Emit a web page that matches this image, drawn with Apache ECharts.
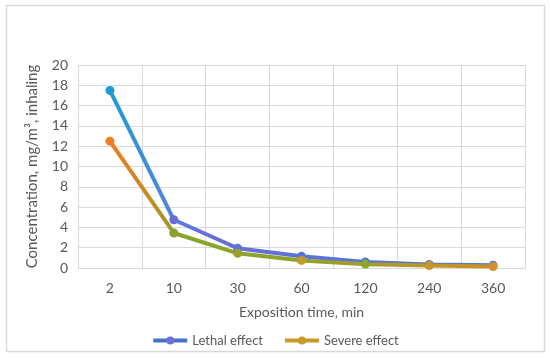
<!DOCTYPE html>
<html>
<head>
<meta charset="utf-8">
<script src="https://cdn.jsdelivr.net/npm/echarts@6/dist/echarts.min.js"></script>
<style>html,body{margin:0;padding:0;background:#fff}#c{width:550px;height:358px}</style>
</head>
<body>
<div id="c"></div>
<script>
var categories = ['2', '10', '30', '60', '120', '240', '360'];
var lethal = [17.5, 4.75, 1.95, 1.15, 0.6, 0.35, 0.28];
var severe = [12.5, 3.45, 1.45, 0.75, 0.38, 0.25, 0.15];
var seriesNames = ['Lethal effect', 'Severe effect'];
var yTicks = {min: 0, max: 20, interval: 2};

var lethalMarkerColors = ['#1E9BD7', '#6C6CD9', '#5E73D8', '#5A74D5', '#4C7ECD', '#4C7ECD', '#4D7BCF'];
var severeMarkerColors = ['#F47C20', '#8AA030', '#9AA030', '#C39A2A', '#8FA52D', '#C8952A', '#D4902A'];

var font = 'Lato, "Open Sans", sans-serif';
function grad(stops) {
  return new echarts.graphic.LinearGradient(0, 0, 1, 0, stops.map(function (s) { return {offset: s[0], color: s[1]}; }));
}
function items(vals, cols) {
  return vals.map(function (v, i) { return {value: v, itemStyle: {color: cols[i]}}; });
}

var chart = echarts.init(document.getElementById('c'), null, {renderer: 'canvas'});
chart.setOption({
  animation: false,
  backgroundColor: '#fff',
  textStyle: {fontFamily: font},
  graphic: [{
    type: 'rect', shape: {x: 6.5, y: 5.5, width: 538, height: 346},
    style: {fill: 'none', stroke: '#d9d9d9', lineWidth: 1.5}, silent: true, z: -1
  }],
  grid: {left: 78, right: 25, top: 65, bottom: 90, containLabel: false},
  legend: {
    top: 329, left: 'center', itemWidth: 34, itemHeight: 10, itemGap: 20,
    textStyle: {fontFamily: font, fontSize: 13, color: '#595959'},
    data: [
      {name: seriesNames[0], lineStyle: {color: '#4472C4', width: 4}, itemStyle: {color: '#6A70D8'}},
      {name: seriesNames[1], lineStyle: {color: '#C99A2A', width: 4}, itemStyle: {color: '#C99A2A'}}
    ]
  },
  xAxis: {
    type: 'category', data: categories, boundaryGap: true,
    name: 'Exposition time, min', nameLocation: 'middle', nameGap: 37,
    nameTextStyle: {fontFamily: font, fontSize: 14, color: '#595959'},
    axisLine: {lineStyle: {color: '#d9d9d9', width: 1}},
    axisTick: {show: false},
    axisLabel: {color: '#595959', fontSize: 14, margin: 13, fontFamily: font},
    splitLine: {show: true, lineStyle: {color: '#d9d9d9', width: 1}}
  },
  yAxis: {
    type: 'value', min: yTicks.min, max: yTicks.max, interval: yTicks.interval,
    name: 'Concentration, mg/m³, inhaling', nameLocation: 'middle', nameGap: 38,
    nameTextStyle: {fontFamily: font, fontSize: 15, color: '#595959'},
    axisLine: {show: false}, axisTick: {show: false},
    axisLabel: {color: '#595959', fontSize: 14, margin: 10, fontFamily: font},
    splitLine: {lineStyle: {color: '#d9d9d9', width: 1}}
  },
  series: [
    {
      name: seriesNames[0], type: 'line', data: items(lethal, lethalMarkerColors),
      symbol: 'circle', symbolSize: 9,
      lineStyle: {width: 4, color: grad([[0, '#1E9BD7'], [0.15, '#4C88D8'], [0.25, '#6C6CD9'], [0.5, '#5E72D8'], [1, '#4A7BD0']])},
      itemStyle: {color: '#4472C4'}
    },
    {
      name: seriesNames[1], type: 'line', data: items(severe, severeMarkerColors),
      symbol: 'circle', symbolSize: 9,
      lineStyle: {width: 4, color: grad([[0, '#F47C20'], [0.12, '#C08C25'], [0.2, '#86A52C'], [0.5, '#8FA22C'], [0.75, '#B29A2A'], [1, '#D18E22']])},
      itemStyle: {color: '#C99A2A'}
    }
  ]
});
</script>
</body>
</html>
